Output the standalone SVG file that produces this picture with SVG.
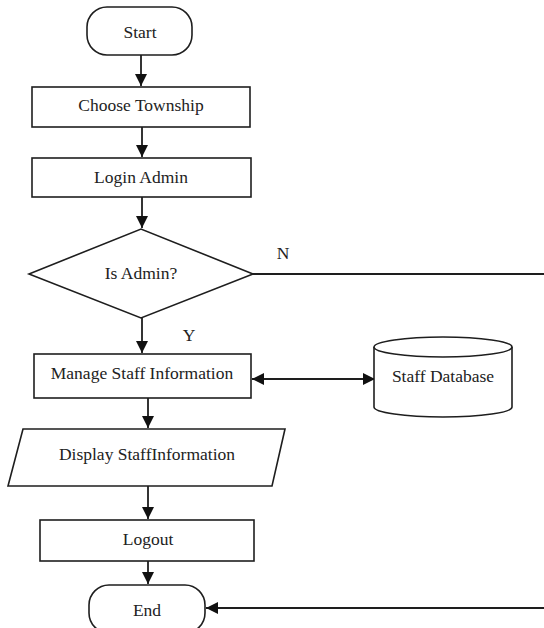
<svg xmlns="http://www.w3.org/2000/svg" width="544" height="628" viewBox="0 0 544 628">
<style>
.shape{fill:#fff;stroke:#1e1e1e;stroke-width:1.6}
.t{font-family:"Liberation Serif","Times New Roman",serif;font-size:17.5px;fill:#222;text-anchor:middle}
.c{fill:none;stroke:#1e1e1e;stroke-width:1.8}
</style>
<defs>
<marker id="ah" markerUnits="userSpaceOnUse" markerWidth="12" markerHeight="12" viewBox="0 0 10 10" refX="10" refY="5" orient="auto-start-reverse">
<path d="M0,0 L10,5 L0,10 Z" fill="#111"/>
</marker>
</defs>
<rect width="544" height="628" fill="#fff"/>
<g id="connectors">
<line class="c" x1="141" y1="55" x2="141" y2="86" marker-end="url(#ah)"/>
<line class="c" x1="142" y1="127" x2="142" y2="157" marker-end="url(#ah)"/>
<line class="c" x1="142" y1="197" x2="142" y2="228" marker-end="url(#ah)"/>
<line class="c" x1="142" y1="318" x2="142" y2="353" marker-end="url(#ah)"/>
<line class="c" x1="252" y1="379" x2="375" y2="379" marker-start="url(#ah)" marker-end="url(#ah)"/>
<line class="c" x1="148" y1="398" x2="148" y2="428" marker-end="url(#ah)"/>
<line class="c" x1="148" y1="486" x2="148" y2="519" marker-end="url(#ah)"/>
<line class="c" x1="148" y1="561" x2="148" y2="584" marker-end="url(#ah)"/>
<line class="c" x1="253" y1="274" x2="544" y2="274"/>
<line class="c" x1="544" y1="608" x2="206" y2="608" marker-end="url(#ah)"/>
<text class="t" x="283" y="259">N</text>
<text class="t" x="189" y="341">Y</text>
</g>
<g id="start">
<rect class="shape" x="87" y="7" width="105" height="48" rx="20" ry="20"/>
<text class="t" x="140" y="38">Start</text>
</g>
<g id="choose-township">
<rect class="shape" x="32" y="87" width="218" height="40"/>
<text class="t" x="141" y="111">Choose Township</text>
</g>
<g id="login-admin">
<rect class="shape" x="32" y="158" width="219" height="39"/>
<text class="t" x="141" y="183">Login Admin</text>
</g>
<g id="is-admin">
<polygon class="shape" points="29,274 141,229 253,274 141,318"/>
<text class="t" x="141" y="279">Is Admin?</text>
</g>
<g id="manage-staff">
<rect class="shape" x="34" y="354" width="217" height="44"/>
<text class="t" x="142" y="379">Manage Staff Information</text>
</g>
<g id="staff-database">
<path class="shape" d="M374,347 A69,10 0 0,1 512,347 L512,407 A69,10 0 0,1 374,407 Z"/>
<path class="shape" fill="none" d="M374,347 A69,10 0 0,0 512,347"/>
<text class="t" x="443" y="382">Staff Database</text>
</g>
<g id="display-staff">
<polygon class="shape" points="23,429 285,429 272,486 8,486"/>
<text class="t" x="147" y="460">Display StaffInformation</text>
</g>
<g id="logout">
<rect class="shape" x="40" y="520" width="214" height="41"/>
<text class="t" x="148" y="545">Logout</text>
</g>
<g id="end">
<rect class="shape" x="89" y="585" width="116" height="48" rx="20" ry="20"/>
<text class="t" x="147" y="616">End</text>
</g>
</svg>
